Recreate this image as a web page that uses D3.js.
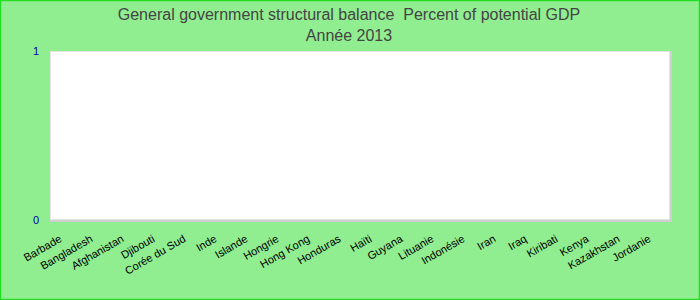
<!DOCTYPE html>
<html lang="fr">
<head>
  <meta charset="UTF-8">
  <title>Structural balance</title>
  <script src="https://cdn.jsdelivr.net/npm/d3@7"></script>
  <style>
    body { margin: 0; }
    text { font-family: "Liberation Sans", Arial, sans-serif; }
  </style>
</head>
<body>
<script>
  // data
  var countries = ["Barbade", "Bangladesh", "Afghanistan", "Djibouti", "Corée du Sud", "Inde",
    "Islande", "Hongrie", "Hong Kong", "Honduras", "Haïti", "Guyana", "Lituanie", "Indonésie",
    "Iran", "Iraq", "Kiribati", "Kenya", "Kazakhstan", "Jordanie"];
  // no values reported for 2013
  var values = countries.map(function() { return null; });
  var yTicks = [0, 1];
  var titleLines = ["General government structural balance  Percent of potential GDP", "Année 2013"];

  var w = 700, h = 300;
  var plotLeft = 50, plotRight = 670, plotTop = 51, plotBottom = 220;

  var svg = d3.select("body").append("svg")
    .attr("width", w)
    .attr("height", h);

  svg.append("rect")
    .attr("x", 0.5).attr("y", 0.5)
    .attr("width", w - 1).attr("height", h - 1)
    .attr("fill", "#90ee90")
    .attr("stroke", "#22dd22")
    .attr("stroke-width", 1.5);

  // title
  svg.selectAll("text.title")
    .data(titleLines)
    .enter().append("text")
    .attr("class", "title")
    .attr("x", 349)
    .attr("y", function(d, i) { return 20 + i * 21; })
    .attr("text-anchor", "middle")
    .attr("fill", "#444")
    .style("font-size", "16px")
    .style("white-space", "pre")
    .text(function(d) { return d; });

  var xScale = d3.scaleBand().domain(countries).range([plotLeft, plotRight]);
  var yScale = d3.scaleLinear().domain([0, 1]).range([plotBottom, plotTop]);

  // plot area with a small shadow on the right and bottom
  svg.append("path")
    .attr("d", "M" + (plotRight + 1) + "," + plotTop + "V" + (plotBottom + 1) + "H" + plotLeft)
    .attr("fill", "none")
    .attr("stroke", "#cfcfcf")
    .attr("stroke-width", 2);
  svg.append("rect")
    .attr("x", plotLeft + 0.5).attr("y", plotTop + 0.5)
    .attr("width", plotRight - plotLeft - 1).attr("height", plotBottom - plotTop - 1)
    .attr("fill", "#fff")
    .attr("stroke", "#e4e4e4")
    .attr("stroke-width", 1);

  // bars (none have values)
  svg.selectAll("rect.bar")
    .data(values.filter(function(v) { return v != null; }))
    .enter().append("rect")
    .attr("class", "bar");

  // y axis labels
  svg.selectAll("text.ytick")
    .data(yTicks)
    .enter().append("text")
    .attr("class", "ytick")
    .attr("x", 39)
    .attr("y", function(d) { return yScale(d) + 4; })
    .attr("text-anchor", "end")
    .attr("fill", "#0000aa")
    .style("font-size", "11px")
    .text(function(d) { return d; });

  // x labels
  svg.selectAll("text.xlab")
    .data(countries)
    .enter().append("text")
    .attr("class", "xlab")
    .attr("text-anchor", "end")
    .attr("fill", "#000")
    .style("font-size", "11px")
    .attr("transform", function(d) {
      return "translate(" + (xScale(d) + xScale.bandwidth() / 2 - 3) + "," + 241 + ") rotate(-30)";
    })
    .text(function(d) { return d; });
</script>
</body>
</html>
